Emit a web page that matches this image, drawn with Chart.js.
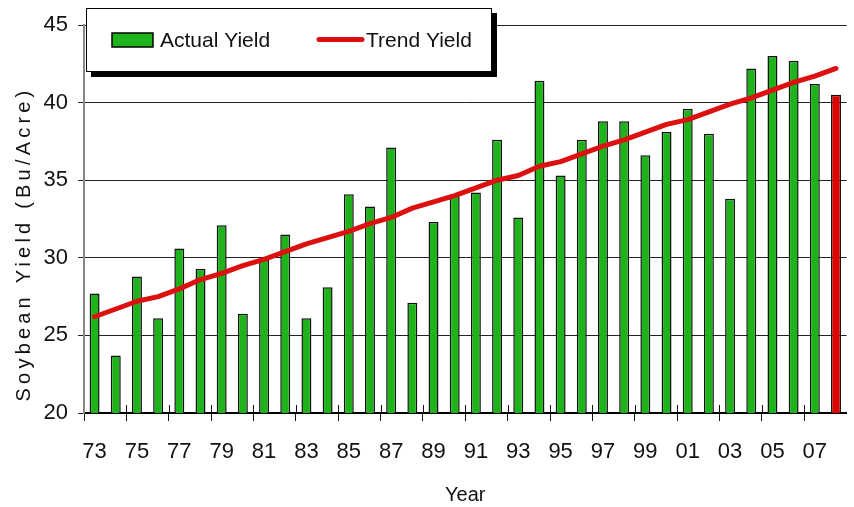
<!DOCTYPE html>
<html>
<head>
<meta charset="utf-8">
<script src="https://cdn.jsdelivr.net/npm/chart.js@4.4.1/dist/chart.umd.min.js"></script>
<style>
  html, body { margin: 0; padding: 0; background: #fff; }
  #wrap { width: 854px; height: 507px; }
</style>
</head>
<body>
<div id="wrap"><canvas id="yield-chart" width="854" height="507"></canvas></div>
<script>
// ---- データ ----
const years = ['73', '74', '75', '76', '77', '78', '79', '80', '81', '82', '83', '84',
    '85', '86', '87', '88', '89', '90', '91', '92', '93', '94', '95', '96',
    '97', '98', '99', '00', '01', '02', '03', '04', '05', '06', '07', '08'];
const actualYield = [27.7, 23.7, 28.8, 26.1, 30.6, 29.3, 32.1, 26.4, 29.9, 31.5, 26.1, 28.1,
    34.1, 33.3, 37.1, 27.1, 32.3, 34.1, 34.2, 37.6, 32.6, 41.4, 35.3, 37.6,
    38.8, 38.8, 36.6, 38.1, 39.6, 38.0, 33.8, 42.2, 43.0, 42.7, 41.2, 40.5];
const trendYield = [26.2, 26.7, 27.2, 27.5, 28.0, 28.6, 29.0, 29.5, 29.9, 30.4, 30.9, 31.3,
    31.7, 32.2, 32.6, 33.2, 33.6, 34.0, 34.5, 35.0, 35.3, 35.9, 36.2, 36.7,
    37.2, 37.6, 38.1, 38.6, 38.9, 39.4, 39.9, 40.3, 40.8, 41.3, 41.7, 42.2];
const yTicks = [20, 25, 30, 35, 40, 45];
const seriesNames = ['Actual Yield', 'Trend Yield'];
const xTitle = 'Year';
const yTitle = 'Soybean Yield (Bu/Acre)';

const FONT = "'Liberation Sans', Arial, sans-serif";
const GREEN = '#1fb31b';
const RED = '#e00000';
const LINE_RED = '#dd1010';

// 最終年（見込み）は赤
const barColors = actualYield.map((v, i) => i === actualYield.length - 1 ? RED : GREEN);

// ---- 凡例（影付きの箱） ----
const boxLegend = {
    id: 'boxLegend',
    afterDraw(chart) {
        const ctx = chart.ctx;
        const x = 86, y = 8, w = 406, h = 64;
        ctx.save();
        ctx.fillStyle = '#000';
        ctx.fillRect(x + 5, y + 5, w, h);
        ctx.fillStyle = '#fff';
        ctx.fillRect(x, y, w, h);
        ctx.strokeStyle = '#000';
        ctx.lineWidth = 1;
        ctx.strokeRect(x + 0.5, y + 0.5, w - 1, h - 1);

        // 棒グラフの見本
        ctx.fillStyle = GREEN;
        ctx.fillRect(112, 33, 41, 14);
        ctx.lineWidth = 1.5;
        ctx.strokeRect(112, 33, 41, 14);

        // 線の見本
        ctx.strokeStyle = LINE_RED;
        ctx.lineWidth = 5;
        ctx.lineCap = 'round';
        ctx.beginPath();
        ctx.moveTo(319, 39.5);
        ctx.lineTo(362, 39.5);
        ctx.stroke();

        ctx.fillStyle = '#111';
        ctx.font = `21px ${FONT}`;
        ctx.textBaseline = 'middle';
        ctx.textAlign = 'left';
        ctx.fillText(seriesNames[0], 160, 41);
        ctx.fillText(seriesNames[1], 366, 41);
        ctx.restore();
    }
};

// ---- Y軸タイトル（字間あり） ----
const spacedYTitle = {
    id: 'spacedYTitle',
    afterDraw(chart) {
        const ctx = chart.ctx;
        const area = chart.chartArea;
        ctx.save();
        ctx.translate(24, (area.top + area.bottom) / 2 + 25);
        ctx.rotate(-Math.PI / 2);
        ctx.font = `20px ${FONT}`;
        ctx.letterSpacing = '4.2px';
        ctx.fillStyle = '#111';
        ctx.textAlign = 'center';
        ctx.textBaseline = 'middle';
        ctx.fillText(yTitle, 0, 0);
        ctx.restore();
    }
};

// ---- X軸の目盛り線（軸の上側にも少し出す） ----
const crossTicks = {
    id: 'crossTicks',
    afterDatasetsDraw(chart) {
        const ctx = chart.ctx;
        const xs = chart.scales.x;
        const half = (xs.getPixelForValue(1) - xs.getPixelForValue(0)) / 2;
        const yAxis = chart.chartArea.bottom;
        ctx.save();
        ctx.strokeStyle = '#111';
        ctx.lineWidth = 1;
        for (let i = 2; i < years.length; i += 2) {
            const px = Math.round(xs.getPixelForValue(i) - half) + 0.5;
            ctx.beginPath();
            ctx.moveTo(px, yAxis - 8);
            ctx.lineTo(px, yAxis);
            ctx.stroke();
        }
        ctx.restore();
    }
};

new Chart(document.getElementById('yield-chart'), {
    data: {
        labels: years,
        datasets: [
            {
                type: 'line',
                label: seriesNames[1],
                data: trendYield,
                borderColor: LINE_RED,
                borderWidth: 5,
                borderCapStyle: 'round',
                borderJoinStyle: 'round',
                pointRadius: 0,
                tension: 0,
                order: 0,
            },
            {
                type: 'bar',
                label: seriesNames[0],
                data: actualYield,
                backgroundColor: barColors,
                borderColor: '#111',
                borderWidth: 1.5,
                barPercentage: 0.47,
                categoryPercentage: 1,
                order: 1,
            },
        ],
    },
    options: {
        responsive: false,
        devicePixelRatio: 1,
        animation: false,
        layout: { padding: { top: 25, right: 0, left: 0, bottom: 0 } },
        plugins: {
            legend: { display: false },
            tooltip: { enabled: false },
        },
        scales: {
            x: {
                type: 'category',
                offset: true,
                afterFit: s => { s.height = 94; },
                grid: {
                    offset: true,
                    drawOnChartArea: false,
                    tickLength: 8,
                    color: c => (c.index % 2 === 0 ? '#111' : 'rgba(0,0,0,0)'),
                },
                border: { display: true, color: '#000', width: 2 },
                ticks: {
                    autoSkip: false,
                    maxRotation: 0,
                    padding: 18,
                    color: '#111',
                    font: { family: FONT, size: 22 },
                    callback: (v, i) => (i % 2 === 0 ? years[i] : ''),
                },
                title: {
                    display: true,
                    text: xTitle,
                    color: '#111',
                    font: { family: FONT, size: 20 },
                    padding: { top: 0, bottom: 0 },
                },
            },
            y: {
                min: yTicks[0],
                max: yTicks[yTicks.length - 1],
                afterFit: s => { s.width = 84; },
                afterBuildTicks: s => { s.ticks = yTicks.map(v => ({ value: v })); },
                grid: {
                    color: '#222',
                    lineWidth: 1,
                    tickLength: 6,
                },
                border: { display: true, color: '#888', width: 2 },
                ticks: {
                    padding: 10,
                    color: '#111',
                    font: { family: FONT, size: 22 },
                },
            },
        },
    },
    plugins: [crossTicks, spacedYTitle, boxLegend],
});
</script>
</body>
</html>
